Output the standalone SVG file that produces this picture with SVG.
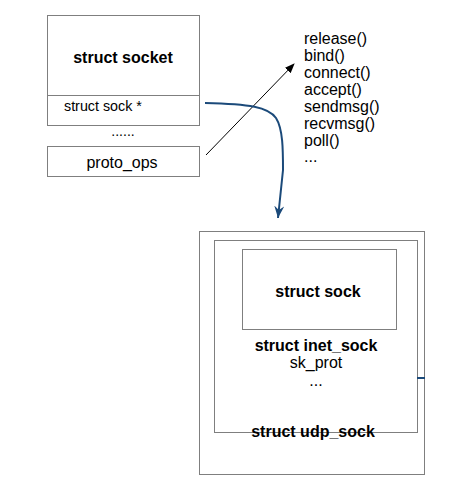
<svg xmlns="http://www.w3.org/2000/svg" width="476" height="498" viewBox="0 0 476 498">
<style>
.box{fill:#fff;stroke:#7f7f7f;stroke-width:1}
.t{font-family:"Liberation Sans",Arial,sans-serif;fill:#000;font-size:16px}
.b{font-weight:bold}
</style>
<defs>
<marker id="ah" markerWidth="10" markerHeight="10" refX="9" refY="5" orient="auto" markerUnits="userSpaceOnUse">
<path d="M0,1 L10,5 L0,9 Z" fill="#000"/>
</marker>
<marker id="bh" markerWidth="14" markerHeight="12" refX="12" refY="6" orient="auto" markerUnits="userSpaceOnUse">
<path d="M0,1 L12,6 L0,11 L4,6 Z" fill="#1b4a7a"/>
</marker>
</defs>
<rect width="476" height="498" fill="#fff"/>
<g id="socket">
<rect class="box" x="47.5" y="15.5" width="152" height="110"/>
<line x1="47.5" y1="95.5" x2="199.5" y2="95.5" stroke="#7f7f7f"/>
<text class="t b" x="123" y="63" text-anchor="middle">struct socket</text>
<text class="t" x="64" y="111" style="font-size:14.3px">struct sock *</text>
<text class="t" x="123" y="136" style="font-size:14px" text-anchor="middle">......</text>
</g>
<g id="proto_ops">
<rect class="box" x="47.5" y="146.5" width="152" height="30"/>
<text class="t" x="122" y="168" text-anchor="middle">proto_ops</text>
</g>
<g id="ops_list">
<text class="t" x="304" y="44">release()</text>
<text class="t" x="304" y="61">bind()</text>
<text class="t" x="304" y="78">connect()</text>
<text class="t" x="304" y="95">accept()</text>
<text class="t" x="304" y="112">sendmsg()</text>
<text class="t" x="304" y="129">recvmsg()</text>
<text class="t" x="304" y="146">poll()</text>
<text class="t" x="304" y="162">...</text>
</g>
<g id="udp_sock">
<rect class="box" x="199.5" y="231.5" width="225" height="243"/>
<rect class="box" x="214.5" y="240.5" width="203" height="192"/>
<text class="t b" x="313" y="437" text-anchor="middle">struct udp_sock</text>
</g>
<g id="inet_sock">
<text class="t b" x="316" y="351" text-anchor="middle">struct inet_sock</text>
<text class="t" x="316" y="368" text-anchor="middle">sk_prot</text>
<text class="t" x="316" y="386" text-anchor="middle">...</text>
</g>
<g id="sock">
<rect class="box" x="242.5" y="249.5" width="154" height="80"/>
<text class="t b" x="318" y="297" text-anchor="middle">struct sock</text>
</g>
<g id="connectors">
<line x1="206" y1="155" x2="294" y2="64" stroke="#000" stroke-width="1" marker-end="url(#ah)"/>
<path d="M205,103 C250,104 268,107 276,118 C283,129 283,150 283,170 L278,218" fill="none" stroke="#1b4a7a" stroke-width="2" marker-end="url(#bh)"/>
<line x1="417" y1="378" x2="425" y2="378" stroke="#1b4a7a" stroke-width="2"/>
</g>
</svg>
